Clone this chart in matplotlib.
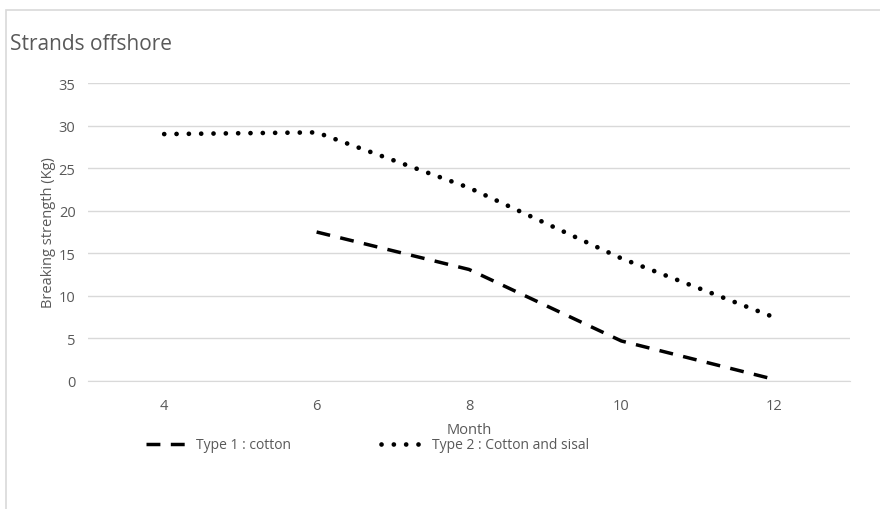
import matplotlib
matplotlib.use('Agg')
import matplotlib.pyplot as plt
from matplotlib.patches import Rectangle

plt.rcParams['font.family'] = ['Open Sans', 'DejaVu Sans']

# data
months_type1 = [6, 8, 10, 12]
strength_type1 = [17.5, 13.1, 4.7, 0.2]
months_type2 = [4, 6, 8, 10, 12]
strength_type2 = [29.0, 29.2, 22.7, 14.4, 7.5]
x_ticks = [4, 6, 8, 10, 12]
y_ticks = [0, 5, 10, 15, 20, 25, 30, 35]

text_grey = '#595959'
grid_grey = '#d9d9d9'

fig = plt.figure(figsize=(8.8, 5.1), dpi=100)

# chart area border (cut off on right and bottom like the reference)
fig.patches.append(Rectangle((6 / 880, -0.1), 1.2, (510 - 11) / 510 + 0.1,
                             transform=fig.transFigure, fill=False,
                             edgecolor=grid_grey, linewidth=1.2))

ax = fig.add_axes([88 / 880, 1 - 382 / 510, (850 - 88) / 880, (382 - 84) / 510])

# Type 1 dashed line
ax.plot(months_type1, strength_type1, color='black', linewidth=2.5,
        linestyle=(0, (4.0, 3.0)), dash_capstyle='butt',
        label='Type 1 : cotton')

# Type 2 dotted line
ax.plot(months_type2, strength_type2, color='black', linewidth=3.4,
        linestyle=(0, (0.01, 2.6)), dash_capstyle='round',
        label='Type 2 : Cotton and sisal')

ax.set_xlim(3, 13)
ax.set_ylim(0, 35)
ax.set_xticks(x_ticks)
ax.set_yticks(y_ticks)
ax.grid(True, axis='y', color=grid_grey, linewidth=1)
ax.set_axisbelow(True)
for side in ['top', 'right', 'left', 'bottom']:
    ax.spines[side].set_visible(False)
ax.spines['bottom'].set_visible(True)
ax.spines['bottom'].set_color(grid_grey)
ax.tick_params(length=0, labelsize=10.5, labelcolor=text_grey)
ax.tick_params(axis='y', pad=9)
ax.tick_params(axis='x', pad=12)

ax.set_xlabel('Month', fontsize=10.5, color=text_grey, labelpad=7)
ax.set_ylabel('Breaking strength (Kg)', fontsize=10.5, color=text_grey, labelpad=2)

fig.text(10 / 880, 1 - 45 / 510, 'Strands offshore', fontsize=15,
         color=text_grey, va='center', ha='left')

fig.legend(loc='center left', bbox_to_anchor=(133 / 880, 1 - 446 / 510),
           ncol=2, frameon=False, fontsize=10, labelcolor=text_grey,
           handlelength=3.25, columnspacing=6.5, handletextpad=0.4)

fig.savefig('out.png', dpi=100)
plt.close(fig)
